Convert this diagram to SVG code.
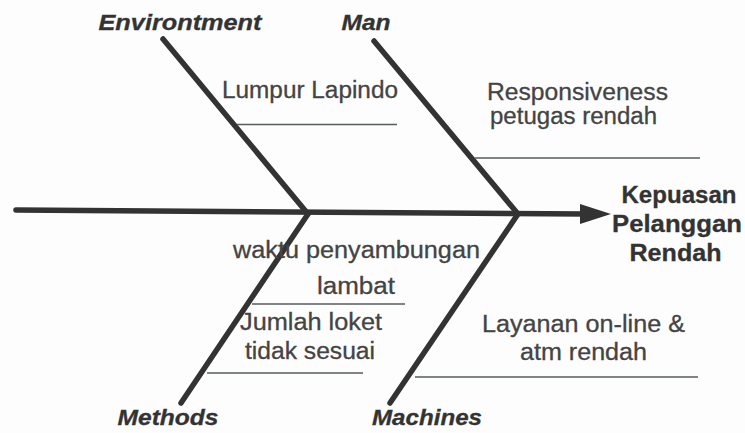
<svg xmlns="http://www.w3.org/2000/svg" width="745" height="433" viewBox="0 0 745 433">
<style>
.bone{stroke:#333;stroke-width:5.5;stroke-linecap:round;fill:none}
.sub{stroke:#555d5d;stroke-width:1.3;fill:none}
.t{font-family:"Liberation Sans",Arial,sans-serif;font-size:23px;fill:#444;stroke:#444;stroke-width:0.3;text-anchor:middle}
.h{font-family:"Liberation Sans",Arial,sans-serif;font-size:22.5px;font-weight:bold;font-style:italic;fill:#333;stroke:#333;stroke-width:0.3;text-anchor:middle}
.e{font-family:"Liberation Sans",Arial,sans-serif;font-size:23.5px;font-weight:bold;fill:#333;stroke:#333;stroke-width:0.3;text-anchor:middle}
</style>
<rect width="745" height="433" fill="#fdfdfd"/>
<g id="connectors">
<line class="bone" x1="16" y1="210" x2="585" y2="214"/>
<polygon points="580,204 611,214 580,224" fill="#333"/>
<line class="bone" x1="163" y1="39" x2="308" y2="214"/>
<line class="bone" x1="374" y1="41" x2="518" y2="214"/>
<line class="bone" x1="181" y1="403" x2="308" y2="214"/>
<line class="bone" x1="390" y1="403" x2="518" y2="214"/>
<line class="sub" x1="237" y1="124.5" x2="397" y2="124.5"/>
<line class="sub" x1="475" y1="158" x2="700" y2="158"/>
<line class="sub" x1="252" y1="304" x2="405" y2="304"/>
<line class="sub" x1="207" y1="373" x2="363" y2="373"/>
<line class="sub" x1="415" y1="377" x2="698" y2="377"/>
</g>
<g id="environment"><text class="h" x="180" y="30" textLength="163" lengthAdjust="spacingAndGlyphs">Environtment</text></g>
<g id="man"><text class="h" x="366" y="30" textLength="49" lengthAdjust="spacingAndGlyphs">Man</text></g>
<g id="methods"><text class="h" x="168" y="425" textLength="101" lengthAdjust="spacingAndGlyphs">Methods</text></g>
<g id="machines"><text class="h" x="427" y="425" textLength="110" lengthAdjust="spacingAndGlyphs">Machines</text></g>
<g id="effect">
<text class="e" x="679" y="203" textLength="115" lengthAdjust="spacingAndGlyphs">Kepuasan</text>
<text class="e" x="677" y="232" textLength="130" lengthAdjust="spacingAndGlyphs">Pelanggan</text>
<text class="e" x="675.5" y="261" textLength="92" lengthAdjust="spacingAndGlyphs">Rendah</text>
</g>
<g id="cause-lumpur"><text class="t" x="310" y="98" textLength="176" lengthAdjust="spacingAndGlyphs">Lumpur Lapindo</text></g>
<g id="cause-responsiveness">
<text class="t" x="577.5" y="100" textLength="181" lengthAdjust="spacingAndGlyphs">Responsiveness</text>
<text class="t" x="573.5" y="124" textLength="167" lengthAdjust="spacingAndGlyphs">petugas rendah</text>
</g>
<g id="cause-waktu">
<text class="t" x="356.5" y="258" textLength="247" lengthAdjust="spacingAndGlyphs">waktu penyambungan</text>
<text class="t" x="356" y="294" textLength="78" lengthAdjust="spacingAndGlyphs">lambat</text>
</g>
<g id="cause-jumlah">
<text class="t" x="311" y="330" textLength="142" lengthAdjust="spacingAndGlyphs">Jumlah loket</text>
<text class="t" x="310" y="359" textLength="130" lengthAdjust="spacingAndGlyphs">tidak sesuai</text>
</g>
<g id="cause-layanan">
<text class="t" x="583.5" y="332" textLength="203" lengthAdjust="spacingAndGlyphs">Layanan on-line &amp;</text>
<text class="t" x="583.5" y="360" textLength="127" lengthAdjust="spacingAndGlyphs">atm rendah</text>
</g>
</svg>
